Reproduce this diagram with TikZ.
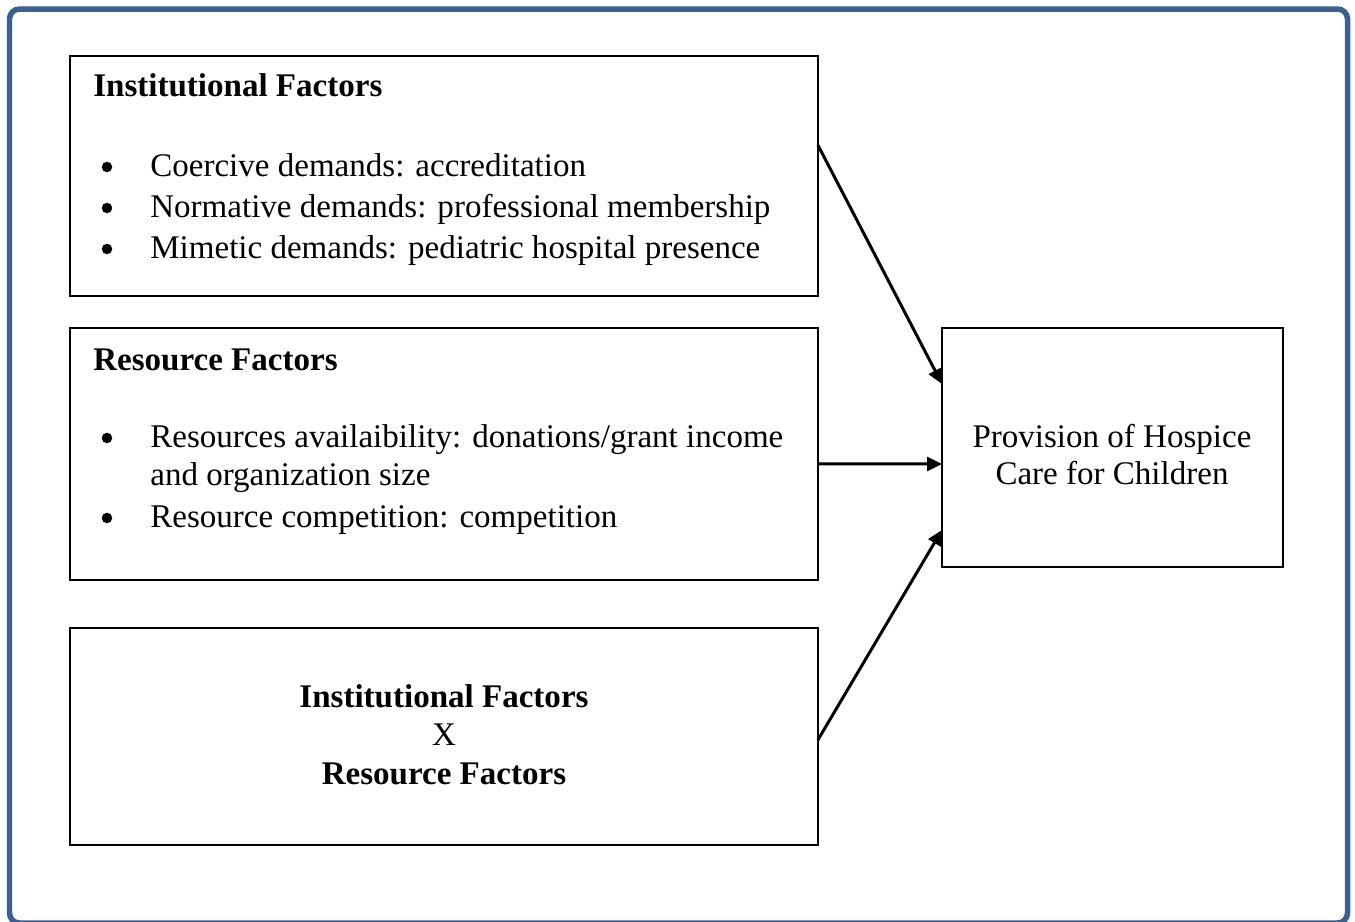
\documentclass[tikz,border=0pt]{standalone}
\usepackage{fontspec}
\setmainfont{Liberation Serif}
\usetikzlibrary{arrows.meta}
\definecolor{framecol}{RGB}{59,96,145}
\tikzstyle{box} = [draw=black, line width=0.04cm, inner sep=0pt, outer sep=0pt, anchor=north west]
\tikzstyle{txt} = [inner sep=0pt, anchor=base west, font={\fontsize{18.8}{22}\selectfont}]
\tikzstyle{head} = [txt, font={\fontsize{18.8}{22}\selectfont\bfseries}]
\tikzstyle{mid} = [txt, anchor=base]
\tikzstyle{midhead} = [head, anchor=base]
\tikzstyle{dot} = [circle, fill=black, inner sep=0pt, minimum size=0.21cm]
\tikzstyle{link} = [-{Triangle[length=0.3cm,width=0.28cm]}, line width=0.06cm]

\begin{document}
\begin{tikzpicture}[x=0.02cm, y=-0.02cm]
    \useasboundingbox (0,0) rectangle (1355,921);
    \draw[framecol, line width=0.11cm, rounded corners=0.2cm] (9.5,9) rectangle (1347.5,923);
    % boxes
    \node[box, minimum width=14.96cm, minimum height=4.8cm](inst) at (70,56){};
    \node[box, minimum width=14.96cm, minimum height=5.04cm](res) at (70,328){};
    \node[box, minimum width=14.96cm, minimum height=4.34cm](inter) at (70,628){};
    \node[box, minimum width=6.82cm, minimum height=4.78cm](prov) at (942,328){};
    % institutional
    \node[head](insttitle) at (93,96){Institutional Factors};
    \node[dot](b1) at (107,167){};
    \node[txt](coercive) at (150,176){Coercive demands: accreditation};
    \node[dot](b2) at (107,208){};
    \node[txt](normative) at (150,217){Normative demands: professional membership};
    \node[dot](b3) at (107,249){};
    \node[txt](mimetic) at (150,258){Mimetic demands: pediatric hospital presence};
    % resource
    \node[head](restitle) at (93,370){Resource Factors};
    \node[dot](b4) at (107,438){};
    \node[txt](avail) at (150,447){Resources availaibility: donations/grant income};
    \node[txt](availcont) at (150,485){and organization size};
    \node[dot](b5) at (107,518){};
    \node[txt](compet) at (150,527){Resource competition: competition};
    % interaction
    \node[midhead](intertop) at (444,707){Institutional Factors};
    \node[mid](interx) at (444,745){X};
    \node[midhead](interbot) at (444,784){Resource Factors};
    % outcome
    \node[mid](provtop) at (1112,447){Provision of Hospice};
    \node[mid](provbot) at (1112,484){Care for Children};
    \draw[link]([yshift=0.62cm]inst.east) -- ([yshift=1.27cm]prov.west);
    \draw[link]([yshift=-0.2cm]res.east) -- ([yshift=-0.33cm]prov.west);
    \draw[link]([yshift=-0.07cm]inter.east) -- ([yshift=-1.65cm]prov.west);
\end{tikzpicture}
\end{document}
